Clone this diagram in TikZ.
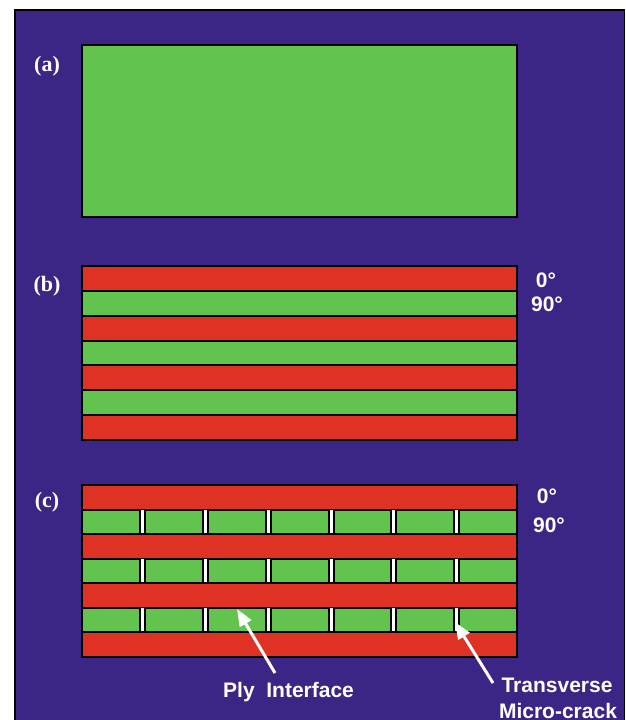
\documentclass[tikz,border=0pt]{standalone}
\usepackage{fontspec}
\setmainfont{Liberation Serif}
\setsansfont{Liberation Sans}
\usetikzlibrary{arrows.meta}
\definecolor{panelblue}{RGB}{59,38,133}
\definecolor{plygreen}{RGB}{98,196,78}
\definecolor{plyred}{RGB}{222,50,36}

\begin{document}
\begin{tikzpicture}[x=1pt,y=-1pt,
  ply/.style={draw=black,line width=2pt},
  tag/.style={text=white,font=\bfseries\fontsize{22}{26}\selectfont,anchor=base,inner sep=0pt},
  deg/.style={text=white,font=\sffamily\bfseries\fontsize{21}{25}\selectfont,anchor=base,inner sep=0pt},
  note/.style={text=white,font=\sffamily\bfseries\fontsize{21}{25}\selectfont,anchor=base,inner sep=0pt},
  pointer/.style={draw=white,line width=3pt,-{Triangle[length=17pt,width=13pt]}}]

\useasboundingbox (0,0) rectangle (625,720);
\fill[white] (0,0) rectangle (625,720);
% dark panel
\draw[fill=panelblue,line width=1.5pt] (15,10) rectangle (624.5,735);

% (a) single ply
\draw[ply,fill=plygreen] (82,45) rectangle (517,217);
\node[tag] (ta) at (47,71) {(a)};

% (b) laminate of alternating 0 and 90 degree plies
\foreach \i in {0,...,6}{
  \pgfmathsetmacro{\ya}{266+\i*24.857}
  \pgfmathsetmacro{\yb}{\ya+24.857}
  \pgfmathparse{int(mod(\i,2))}
  \ifnum\pgfmathresult=0
    \draw[ply,fill=plyred] (82,\ya) rectangle (517,\yb);
  \else
    \draw[ply,fill=plygreen] (82,\ya) rectangle (517,\yb);
  \fi
}
\node[tag] (tb) at (47,291) {(b)};
\node[deg] (b0) at (546,287) {0°};
\node[deg] (b90) at (547,311) {90°};

% (c) laminate with transverse cracks in the 90 degree plies
\foreach \i in {0,...,6}{
  \pgfmathsetmacro{\ya}{485+\i*24.571}
  \pgfmathsetmacro{\yb}{\ya+24.571}
  \pgfmathparse{int(mod(\i,2))}
  \ifnum\pgfmathresult=0
    \draw[ply,fill=plyred] (82,\ya) rectangle (517,\yb);
  \else
    \fill[white] (82,\ya) rectangle (517,\yb);
    \foreach \l/\r in {82/139.5, 144.5/202.5, 207.5/265.5, 270.5/328.5,
                       333.5/390.5, 395.5/453.5, 458.5/517}{
      \draw[ply,fill=plygreen] (\l,\ya) rectangle (\r,\yb);
    }
  \fi
}
\node[tag] (tc) at (47,507) {(c)};
\node[deg] (c0) at (547,503) {0°};
\node[deg] (c90) at (549,532) {90°};

% labels and pointers
\node[note,anchor=base west] (ply) at (223,697) {Ply\ \ Interface};
\node[note] (crackA) at (557,692) {Transverse};
\node[note] (crackB) at (558,718) {Micro-crack};

\coordinate (plytail) at (275,673);
\coordinate (plytip) at (237,609);
\coordinate (cracktail) at (493,683);
\coordinate (cracktip) at (455,622);
\draw[pointer] (plytail) -- (plytip);
\draw[pointer] (cracktail) -- (cracktip);
\end{tikzpicture}
\end{document}
